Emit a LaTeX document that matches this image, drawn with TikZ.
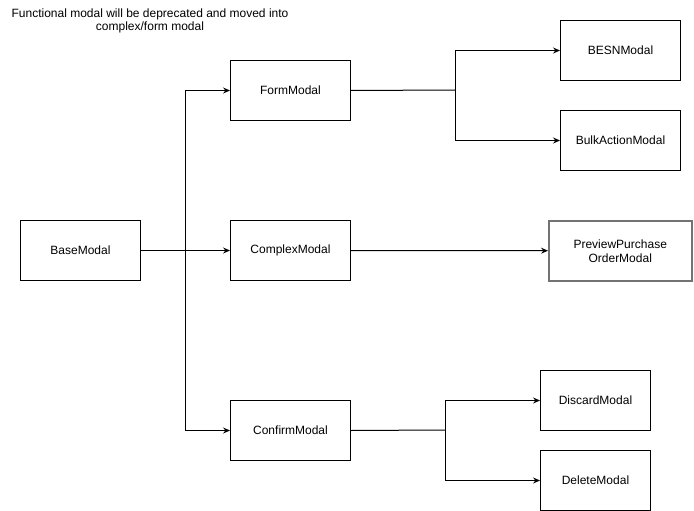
\documentclass[tikz,border=0pt]{standalone}
\usepackage{fontspec}
\setmainfont{Liberation Sans}
\usetikzlibrary{arrows.meta}
\begin{document}
\begin{tikzpicture}[x=1pt,y=-1pt,
  box/.style={draw=black,line width=1pt,minimum width=120pt,minimum height=60pt,inner sep=0pt,font=\fontsize{12pt}{14pt}\selectfont,align=center,anchor=north west},
  seg/.style={draw=black,line width=1pt},
  conn/.style={seg,-{Stealth[length=7pt,width=6pt,inset=2.5pt]}}]
\path[use as bounding box] (0,0) rectangle (694,511);
\node[font=\fontsize{12pt}{13.5pt}\selectfont,align=center] (note) at (150,21) {Functional modal will be deprecated and moved into\\complex/form modal};
\node[box] (base) at (20,220) {BaseModal};
\node[box] (form) at (230,60) {FormModal};
\node[box] (complex) at (230,220) {ComplexModal};
\node[box] (confirm) at (230,400) {ConfirmModal};
\node[box] (besn) at (560,20) {BESNModal};
\node[box] (bulk) at (560,110) {BulkActionModal};
\node[box,draw=black!55,line width=1.5pt,minimum width=143pt] (preview) at (548,220) {PreviewPurchase\\OrderModal};
\node[box,minimum width=110pt] (discard) at (540,370) {DiscardModal};
\node[box,minimum width=110pt] (delete) at (540,450) {DeleteModal};
\coordinate (j1) at (185,250);
\coordinate (j2) at (455,90);
\coordinate (j3) at (445,430);
\draw[conn] (base) -- (complex);
\draw[conn] (j1) |- (form.west);
\draw[conn] (j1) |- (confirm.west);
\draw[seg] (form.east) -- (j2);
\draw[conn] (j2) |- (besn.west);
\draw[conn] (j2) |- (bulk.west);
\draw[conn] (complex) -- (preview);
\draw[seg] (confirm.east) -- (j3);
\draw[conn] (j3) |- (discard.west);
\draw[conn] (j3) |- (delete.west);
\end{tikzpicture}
\end{document}
